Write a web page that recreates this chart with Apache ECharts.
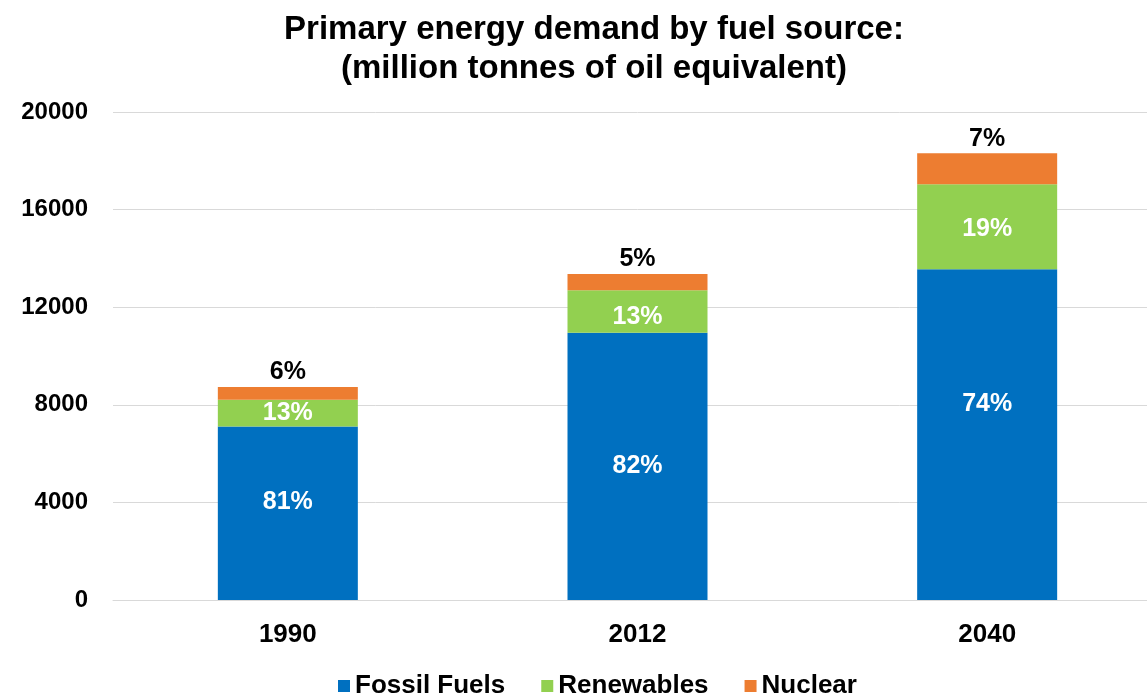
<!DOCTYPE html>
<html>
<head>
<meta charset="utf-8">
<title>Primary energy demand by fuel source</title>
<script src="https://cdn.jsdelivr.net/npm/echarts@6/dist/echarts.min.js"></script>
<style>
  html, body { margin: 0; padding: 0; background: #ffffff; overflow: hidden; }
  /* plot area runs slightly past the right edge of the window */
  #chart { width: 1162px; height: 697px; }
</style>
</head>
<body>
<div id="chart"></div>
<script>
// Years shown on the category axis
const years = ['1990', '2012', '2040'];

// Primary energy demand, million tonnes of oil equivalent
const fossilFuels = [7110, 10950, 13560];
const renewables  = [1100, 1740, 3480];
const nuclear     = [520, 670, 1270];

// Value axis ticks
const yMin = 0;
const yMax = 20000;
const yStep = 4000;

const FONT = "'Liberation Sans', Arial, Helvetica, sans-serif";
const totals = years.map((_, i) => fossilFuels[i] + renewables[i] + nuclear[i]);
const share = (arr) => (p) => Math.round(arr[p.dataIndex] / totals[p.dataIndex] * 100) + '%';

// vertical nudges for the in-bar share labels
const fossilLabelShift = [-11, 0, -30];
const renewLabelShift = [0, 6, 2];

function withShift(values, shifts) {
  return values.map((v, i) => ({ value: v, label: { offset: [0, shifts[i]] } }));
}

const chart = echarts.init(document.getElementById('chart'), null, { renderer: 'canvas' });

chart.setOption({
  backgroundColor: '#ffffff',
  animation: false,
  title: {
    text: 'Primary energy demand by fuel source:\n(million tonnes of oil equivalent)',
    left: 589,
    top: 5,
    textAlign: 'center',
    textStyle: {
      fontFamily: FONT,
      fontWeight: 'bold',
      fontSize: 33,
      lineHeight: 39,
      color: '#000000'
    }
  },
  legend: {
    data: ['Fossil Fuels', 'Renewables', 'Nuclear'],
    left: 338,
    top: 673,
    padding: 0,
    icon: 'rect',
    itemWidth: 12,
    itemHeight: 12,
    itemGap: 36,
    textStyle: {
      fontFamily: FONT,
      fontWeight: 'bold',
      fontSize: 26,
      color: '#000000'
    }
  },
  grid: {
    left: 113,
    top: 112,
    right: 0,
    height: 488,
    containLabel: false
  },
  xAxis: {
    type: 'category',
    data: years,
    axisLine: { show: true, lineStyle: { color: '#d9d9d9', width: 1 } },
    axisTick: { show: false },
    axisLabel: {
      margin: 22,
      fontFamily: FONT,
      fontWeight: 'bold',
      fontSize: 26,
      color: '#000000'
    }
  },
  yAxis: {
    type: 'value',
    min: yMin,
    max: yMax,
    interval: yStep,
    axisLine: { show: false },
    axisTick: { show: false },
    splitLine: { lineStyle: { color: '#d9d9d9', width: 1 } },
    axisLabel: {
      margin: 25,
      formatter: (v) => String(v),
      fontFamily: FONT,
      fontWeight: 'bold',
      fontSize: 24,
      color: '#000000'
    }
  },
  series: [
    {
      name: 'Fossil Fuels',
      type: 'bar',
      stack: 'total',
      barWidth: 140,
      itemStyle: { color: '#0070C0' },
      label: {
        show: true,
        position: 'inside',
        formatter: share(fossilFuels),
        fontFamily: FONT,
        fontWeight: 'bold',
        fontSize: 25,
        color: '#ffffff'
      },
      data: withShift(fossilFuels, fossilLabelShift)
    },
    {
      name: 'Renewables',
      type: 'bar',
      stack: 'total',
      barWidth: 140,
      itemStyle: { color: '#92D050' },
      label: {
        show: true,
        position: 'inside',
        formatter: share(renewables),
        fontFamily: FONT,
        fontWeight: 'bold',
        fontSize: 25,
        color: '#ffffff'
      },
      data: withShift(renewables, renewLabelShift)
    },
    {
      name: 'Nuclear',
      type: 'bar',
      stack: 'total',
      barWidth: 140,
      itemStyle: { color: '#ED7D31' },
      label: {
        show: true,
        position: 'top',
        distance: 2,
        formatter: share(nuclear),
        fontFamily: FONT,
        fontWeight: 'bold',
        fontSize: 25,
        color: '#000000'
      },
      data: nuclear
    }
  ]
});
</script>
</body>
</html>
